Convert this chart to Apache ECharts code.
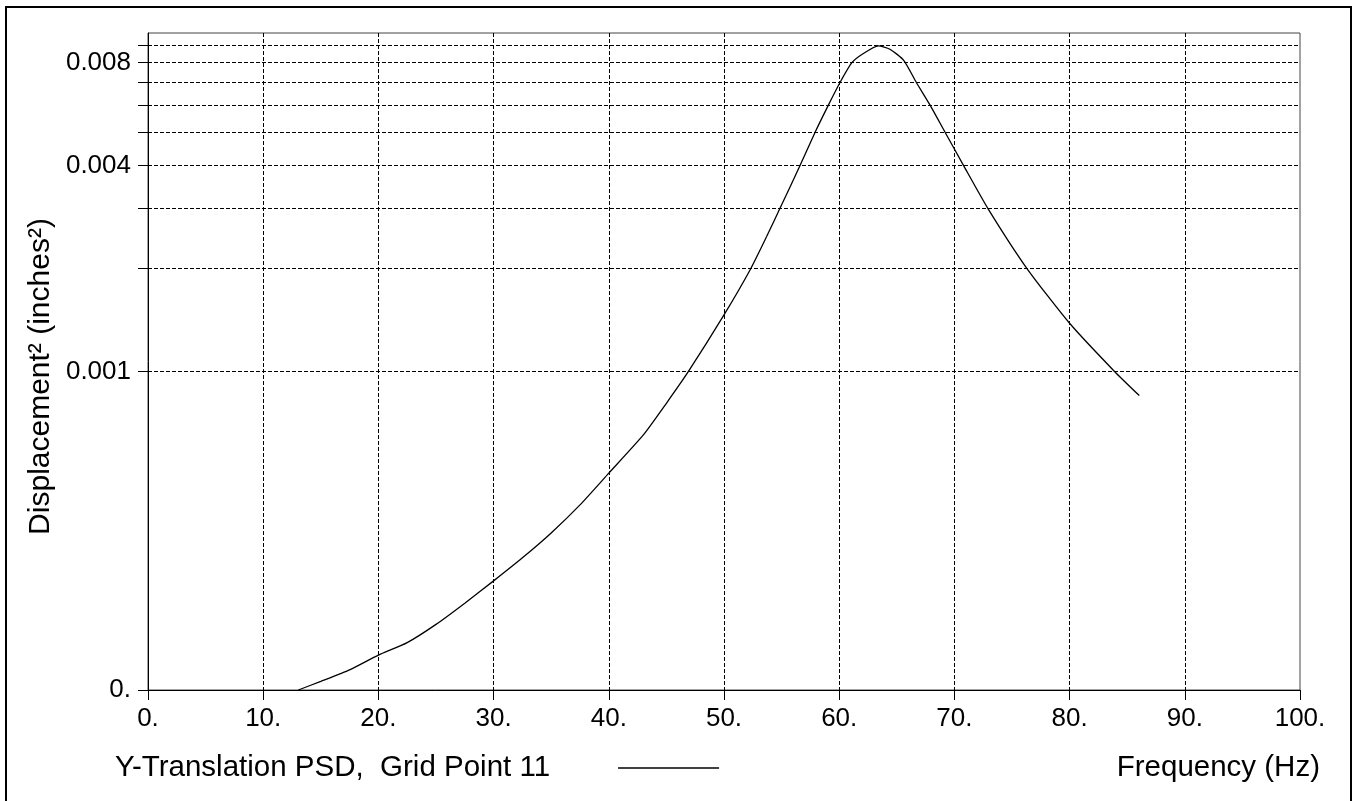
<!DOCTYPE html>
<html>
<head>
<meta charset="utf-8">
<script src="https://cdn.jsdelivr.net/npm/echarts@6/dist/echarts.min.js"></script>
<style>
html,body{margin:0;padding:0;background:#fff;}
#chart{width:1358px;height:801px;}
</style>
</head>
<body>
<div id="chart"></div>
<script>
// ---- data ----
const seriesName = 'Y-Translation PSD,  Grid Point 11';
const freqHz = [13.05, 15, 17.5, 20, 22.5, 25, 27.5, 30, 32.5, 35, 37.5, 40, 43, 45, 46.9, 50, 52.26, 53.7, 54.86, 56.6, 57.9, 59.05, 60.07, 61.1, 62.1, 63.4, 64.4, 65.6, 66.7, 67.9, 69.2, 70.8, 72.9, 76.3, 80, 83.9, 86.05];
const psdValues = [0.000117, 0.000124, 0.000134, 0.000148, 0.000161, 0.000182, 0.000210, 0.000244, 0.000285, 0.000337, 0.000407, 0.000504, 0.000652, 0.000807, 0.000998, 0.001463, 0.00198, 0.00248, 0.003, 0.004, 0.005, 0.006, 0.007, 0.008, 0.00851, 0.00896, 0.00876, 0.00813, 0.007, 0.006, 0.005, 0.004, 0.003, 0.002, 0.001383, 0.001, 0.00085];
const yMin = 0.000117;
const yMax = 0.00977;
const yGridValues = [0.000117, 0.001, 0.002, 0.003, 0.004, 0.005, 0.006, 0.007, 0.008, 0.009];
const yLabelValues = [0.000117, 0.001, 0.004, 0.008];
const xMin = 0, xMax = 100, xStep = 10;

const FONT = "'Liberation Sans', Arial, Helvetica, sans-serif";
const points = freqHz.map((f, i) => [f, psdValues[i]]);
const dash = { color: '#000', width: 1, type: [4, 2] };

const chart = echarts.init(document.getElementById('chart'), null, { renderer: 'canvas' });
chart.setOption({
  animation: false,
  backgroundColor: '#fff',
  textStyle: { fontFamily: FONT },
  grid: { left: 148, right: 58, top: 33, bottom: 111, containLabel: false, outerBoundsMode: 'none',
          show: true, borderColor: '#444', borderWidth: 1, backgroundColor: 'transparent' },
  graphic: [{
    type: 'rect', silent: true, z: 100,
    shape: { x: 6, y: 7, width: 1345, height: 800 },
    style: { fill: 'none', stroke: '#000', lineWidth: 2 }
  }],
  legend: {
    data: [{ name: seriesName, icon: 'rect' }],
    left: 115, top: 753, padding: 0,
    align: 'right', selectedMode: false,
    itemWidth: 101, itemHeight: 1.5,
    textStyle: { fontFamily: FONT, fontSize: 29.5, color: '#000', padding: [0, 63, 0, 0] }
  },
  xAxis: {
    type: 'value', min: xMin, max: xMax, interval: xStep,
    name: 'Frequency (Hz)', nameLocation: 'end', nameGap: 20, nameMoveOverlap: false,
    nameTextStyle: { fontFamily: FONT, fontSize: 29.5, color: '#000', align: 'right', verticalAlign: 'top', lineHeight: 29, padding: [63, 0, 0, 0] },
    axisLine: { show: true, lineStyle: { color: '#000', width: 1 } },
    axisTick: { show: true, length: 10, lineStyle: { color: '#000' } },
    axisLabel: { fontFamily: FONT, fontSize: 26, color: '#000', margin: 16, formatter: v => v + '.' },
    splitLine: { show: true, lineStyle: dash, showMinLine: false, showMaxLine: false }
  },
  yAxis: {
    type: 'log', logBase: 10, min: yMin, max: yMax,
    name: 'Displacement² (inches²)', nameLocation: 'middle', nameRotate: 90, nameGap: 92, nameMoveOverlap: false,
    nameTextStyle: { fontFamily: FONT, fontSize: 30, color: '#000', padding: [0, 30, 0, 0] },
    axisLine: { show: true, lineStyle: { color: '#000', width: 1 } },
    axisTick: { show: true, length: 10, customValues: yGridValues, lineStyle: { color: '#000' } },
    axisLabel: {
      fontFamily: FONT, fontSize: 26, color: '#000', margin: 17, padding: [4, 0, 0, 0],
      customValues: yLabelValues,
      formatter: v => (v < 0.0005 ? '0.' : v.toFixed(3))
    },
    splitLine: { show: true, lineStyle: dash },
    minorTick: { show: false }, minorSplitLine: { show: false }
  },
  series: [{
    name: seriesName, type: 'line', data: points,
    showSymbol: false, symbol: 'none', smooth: 0.2,
    lineStyle: { color: '#000', width: 1.3 },
    itemStyle: { color: '#000' }
  }]
});
</script>
</body>
</html>
